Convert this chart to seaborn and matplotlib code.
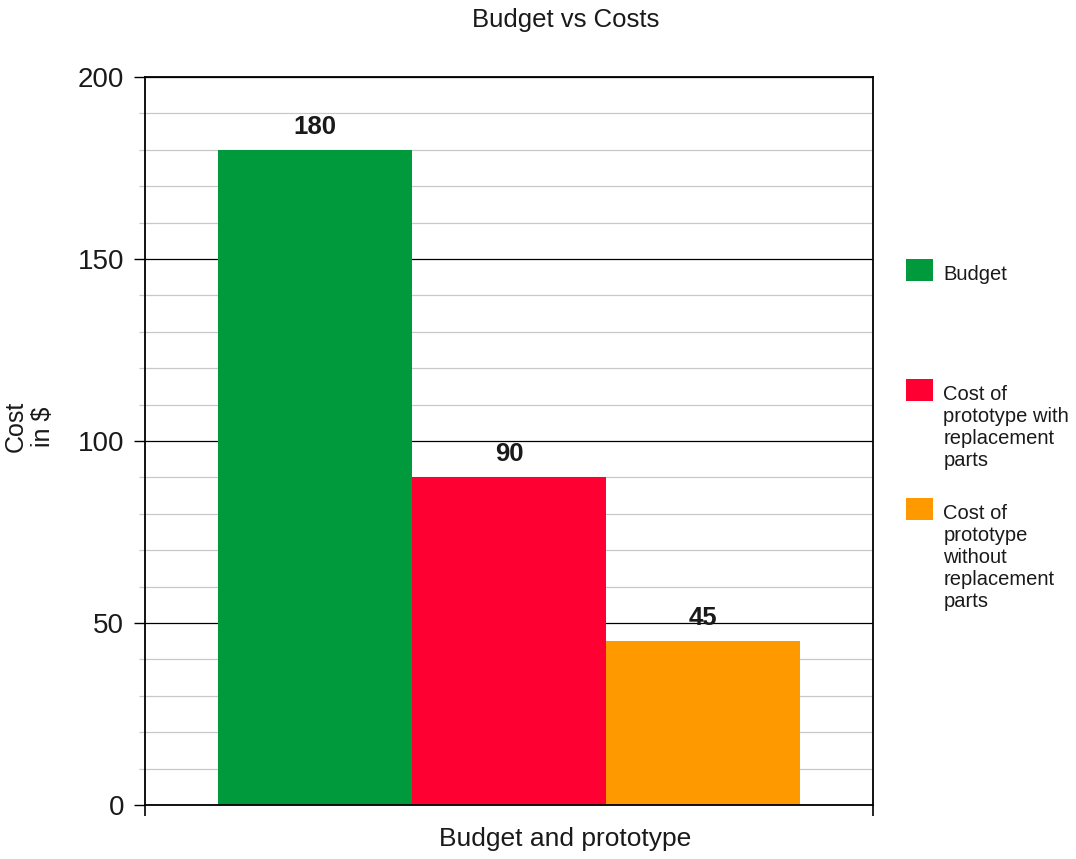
import pandas as pd
import matplotlib
matplotlib.use("Agg")
import matplotlib.pyplot as plt
from matplotlib.patches import Patch
from matplotlib.ticker import MultipleLocator
import seaborn as sns

# Data
group = ["Budget and prototype"]
series = ["Budget",
          "Cost of\nprototype with\nreplacement\nparts",
          "Cost of\nprototype\nwithout\nreplacement\nparts"]
costs = [180, 90, 45]
colors = ["#009a3d", "#ff0033", "#ff9900"]

df = pd.DataFrame({"group": group * len(series), "series": series, "cost": costs})

sns.set_style("white")
plt.rcParams["font.family"] = ["Liberation Sans", "DejaVu Sans"]
txt = "#1a1a1a"
plt.rcParams.update({"text.color": txt, "axes.labelcolor": txt,
                     "xtick.color": txt, "ytick.color": txt})

fig = plt.figure(figsize=(10.76, 8.59), dpi=100)
ax = fig.add_axes([145 / 1076, 54 / 859, 728 / 1076, 728 / 859])

sns.barplot(data=df, x="group", y="cost", hue="series", palette=colors,
            hue_order=series, legend=False, ax=ax, saturation=1, linewidth=0)

ax.set_xlim(-0.5, 0.5)
ax.set_ylim(0, 200)

# grid
ax.set_axisbelow(True)
ax.yaxis.set_major_locator(MultipleLocator(50))
ax.yaxis.set_minor_locator(MultipleLocator(10))
ax.grid(which="minor", axis="y", color="#c8c8c8", linewidth=0.9)
ax.grid(which="major", axis="y", color="black", linewidth=0.9)
ax.grid(which="major", axis="x", visible=False)

ax.tick_params(axis="y", which="major", direction="out", length=8, width=1,
               color="black", labelsize=20, pad=7, left=True)
ax.tick_params(axis="y", which="minor", direction="out", length=4.3, width=0.9,
               color="#c8c8c8", left=True)
ax.set_xticks([-0.5, 0.5])
ax.set_xticklabels(["", ""])
ax.tick_params(axis="x", direction="out", length=8, width=1.2, color="black", bottom=True)

for s in ax.spines.values():
    s.set_visible(True)
    s.set_color("black")
    s.set_linewidth(1.3)

# value labels
for cont in ax.containers:
    ax.bar_label(cont, fmt="%d", padding=8, fontsize=18.5, fontweight="bold")

ax.set_xlabel("Budget and prototype", fontsize=19)
ax.xaxis.set_label_coords(0.577, -0.03)
ax.set_ylabel("Cost\nin $", fontsize=18, linespacing=1.15)
ax.yaxis.set_label_coords(-0.124, 0.52)

fig.text(566 / 1076, 1 - 20 / 859, "Budget vs Costs", fontsize=18.5,
         ha="center", va="center")

# legend entries placed individually, swatch aligned with first line
tops = [259, 379, 498]
shift = 6  # px the text sits below the swatch top
for lab, col, top in zip(series, colors, tops):
    leg = fig.legend(handles=[Patch(facecolor=col, edgecolor="none")], labels=[lab],
                     loc="upper left",
                     bbox_to_anchor=(906 / 1076, 1 - (top + shift) / 859),
                     frameon=False, fontsize=14.5, borderpad=0, borderaxespad=0,
                     handlelength=1.35, handleheight=1.3, handletextpad=0.5)
    for column in leg._legend_handle_box.get_children():
        for row in column.get_children():
            row.align = "top"
    for h in leg.legend_handles:
        h.set_y(h.get_y() + shift * 72 / 100)

fig.savefig("out.png", dpi=100)
